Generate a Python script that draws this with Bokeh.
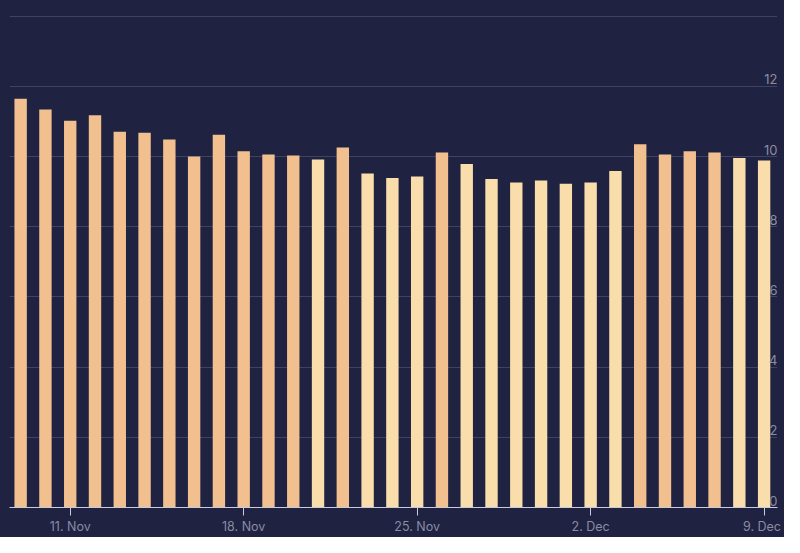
from datetime import datetime, timedelta
from bokeh.plotting import figure
from bokeh.models import Range1d, FixedTicker, ColumnDataSource
from bokeh.core.properties import value
from bokeh.embed import file_html
from bokeh.resources import INLINE

# ---- data ----
start_day = datetime(2023, 11, 9)
values = [11.65, 11.34, 11.02, 11.18, 10.71, 10.68, 10.49, 10.00, 10.62, 10.15,
          10.06, 10.03, 9.92, 10.26, 9.52, 9.39, 9.43, 10.12, 9.79, 9.36,
          9.26, 9.32, 9.23, 9.26, 9.59, 10.35, 10.06, 10.15, 10.12, 9.96, 9.89]
dates = [start_day + timedelta(days=i) for i in range(len(values))]
tone = ["a"] * 12 + ["b", "a", "b", "b", "b", "a"] + ["b"] * 7 + ["a"] * 4 + ["b", "b"]
x_tick_dates = [datetime(2023, 11, 11), datetime(2023, 11, 18), datetime(2023, 11, 25),
                datetime(2023, 12, 2), datetime(2023, 12, 9)]
x_tick_labels = ["11. Nov", "18. Nov", "25. Nov", "2. Dec", "9. Dec"]
y_ticks = [0, 2, 4, 6, 8, 10, 12, 14]
y_labels = [0, 2, 4, 6, 8, 10, 12]

BG = "#1f2240"
palette = {"a": "#f2c08e", "b": "#f9ddaa"}
DAY = 86400000


def ms(d):
    return (d - datetime(1970, 1, 1)).total_seconds() * 1000


xs = [ms(d) for d in dates]
src = ColumnDataSource(dict(x=xs, top=values, color=[palette[t] for t in tone]))

x_start = ms(dates[0]) - 0.45 * DAY
x_end = ms(dates[-1]) + 0.54 * DAY

p = figure(width=784, height=537, output_backend="svg", toolbar_location=None,
           x_range=Range1d(x_start, x_end), y_range=Range1d(0, 14.05),
           min_border_left=9, min_border_right=7, min_border_top=14, min_border_bottom=30)
p.background_fill_color = BG
p.border_fill_color = BG
p.outline_line_color = None
p.styles = {"background-color": BG}

p.vbar(x="x", top="top", width=0.5 * DAY, bottom=0, color="color", line_color=None, source=src)

# grid
p.xgrid.visible = False
p.ygrid.ticker = FixedTicker(ticks=y_ticks)
p.ygrid.grid_line_color = "#3f4262"
p.ygrid.grid_line_width = 1
p.yaxis.visible = False

# x axis
xa = p.xaxis[0]
xa.ticker = FixedTicker(ticks=[ms(d) for d in x_tick_dates])
labels = list(x_tick_labels)
labels[-1] = labels[-1] + "\u00a0"  # keep last label inside the plot, as in the original
xa.major_label_overrides = {ms(d): l for d, l in zip(x_tick_dates, labels)}
xa.axis_line_color = "#c9cce0"
xa.axis_line_width = 1
xa.major_tick_line_color = "#c9cce0"
xa.major_tick_out = 8
xa.major_tick_in = 0
xa.minor_tick_line_color = None
xa.major_label_text_color = "#8a8ca4"
xa.major_label_text_font = "Inter"
xa.major_label_text_font_size = "12.5px"
xa.major_label_standoff = 3

# y labels inside plot, right aligned
p.text(x=[x_end] * len(y_labels), y=y_labels, text=[str(v) for v in y_labels],
       text_align="right", text_baseline="bottom", y_offset=-2,
       text_color="#8a8ca4", text_font=value("Inter"), text_font_size="13px")

open("out.html", "w").write(file_html(p, INLINE))
